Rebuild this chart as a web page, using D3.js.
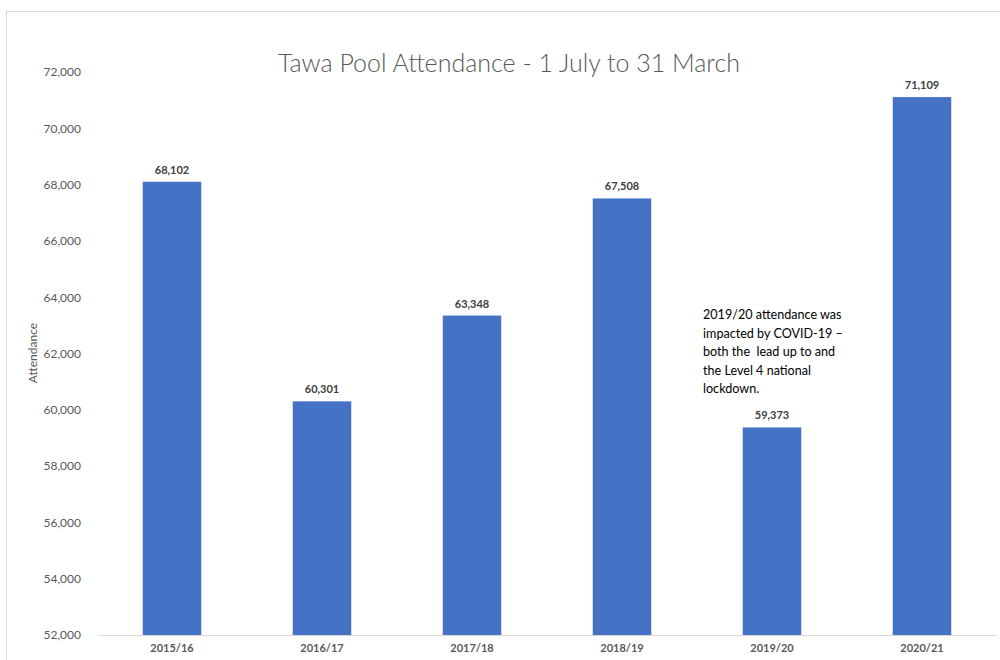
<!DOCTYPE html>
<html>
<head>
<meta charset="utf-8">
<script src="https://cdn.jsdelivr.net/npm/d3@7"></script>
<style>
  html, body { margin: 0; padding: 0; background: #fff; }
  svg { display: block; font-family: Lato, 'Open Sans', sans-serif; }
</style>
</head>
<body>
<div id="chart"></div>
<script>
// ── Data ────────────────────────────────────────────────
const seasons = ['2015/16', '2016/17', '2017/18', '2018/19', '2019/20', '2020/21'];
const attendance = [68102, 60301, 63348, 67508, 59373, 71109];
const yTicks = [52000, 54000, 56000, 58000, 60000, 62000, 64000, 66000, 68000, 70000, 72000];
const noteLines = [
  '2019/20 attendance was',
  'impacted by COVID-19 \u2013',
  'both the  lead up to and',
  'the Level 4 national',
  'lockdown.'
];

const width = 1000, height = 660;
const margin = { top: 72, right: 3, bottom: 25, left: 97 };
const W = width - margin.left - margin.right;
const H = height - margin.top - margin.bottom;

const svg = d3.select('#chart').append('svg')
  .attr('width', width).attr('height', height);

// chart frame
svg.append('rect')
  .attr('x', 6.5).attr('y', 11.5)
  .attr('width', width).attr('height', height)
  .attr('fill', 'none').attr('stroke', '#d9d9d9');

const g = svg.append('g').attr('transform', `translate(${margin.left},${margin.top})`);

// ── Scales ─────────────────────────────────────────────
const x = d3.scaleBand().domain(seasons).range([0, W]).paddingInner(0.61).paddingOuter(0.305);
const y = d3.scaleLinear().domain([52000, 72000]).range([H, 0]);

// ── Y axis (labels only) ───────────────────────────────
g.append('g')
  .call(d3.axisLeft(y).tickValues(yTicks).tickSize(0).tickPadding(16).tickFormat(d3.format(',')))
  .call(gg => gg.select('.domain').remove())
  .call(gg => gg.selectAll('.tick text')
    .attr('fill', '#595959').attr('font-size', 12).attr('font-family', 'Lato, sans-serif'));

// ── Bars ───────────────────────────────────────────────
g.selectAll('.bar')
  .data(attendance)
  .join('rect')
  .attr('class', 'bar')
  .attr('x', (d, i) => x(seasons[i]))
  .attr('width', x.bandwidth())
  .attr('y', d => y(d))
  .attr('height', d => H - y(d))
  .attr('fill', '#4472c4');

// value labels
g.selectAll('.val')
  .data(attendance)
  .join('text')
  .attr('class', 'val')
  .attr('x', (d, i) => x(seasons[i]) + x.bandwidth() / 2)
  .attr('y', d => y(d) - 8)
  .attr('text-anchor', 'middle')
  .attr('font-size', 11).attr('font-weight', 'bold')
  .attr('fill', '#404040')
  .text(d => d3.format(',')(d));

// ── X axis ─────────────────────────────────────────────
g.append('g')
  .attr('transform', `translate(0,${H})`)
  .call(d3.axisBottom(x).tickSize(0).tickPadding(9))
  .call(gg => gg.select('.domain').attr('stroke', '#d9d9d9'))
  .call(gg => gg.selectAll('.tick text')
    .attr('fill', '#595959').attr('font-size', 11).attr('font-weight', 'bold')
    .attr('font-family', 'Lato, sans-serif'));

// ── Title & axis label ─────────────────────────────────
svg.append('text')
  .attr('x', 509).attr('y', 72)
  .attr('text-anchor', 'middle')
  .attr('font-size', 25).attr('font-weight', 300).attr('fill', '#595959')
  .text('Tawa Pool Attendance - 1 July to 31 March');

svg.append('text')
  .attr('transform', 'translate(37,353) rotate(-90)')
  .attr('text-anchor', 'middle')
  .attr('font-size', 12).attr('fill', '#595959')
  .text('Attendance');

// ── Annotation ─────────────────────────────────────────
svg.append('text')
  .attr('x', 703).attr('y', 319)
  .attr('font-size', 12.6).attr('fill', '#000')
  .style('white-space', 'pre')
  .selectAll('tspan')
  .data(noteLines)
  .join('tspan')
  .attr('x', 703)
  .attr('dy', (d, i) => i === 0 ? 0 : 18.5)
  .text(d => d);
</script>
</body>
</html>
